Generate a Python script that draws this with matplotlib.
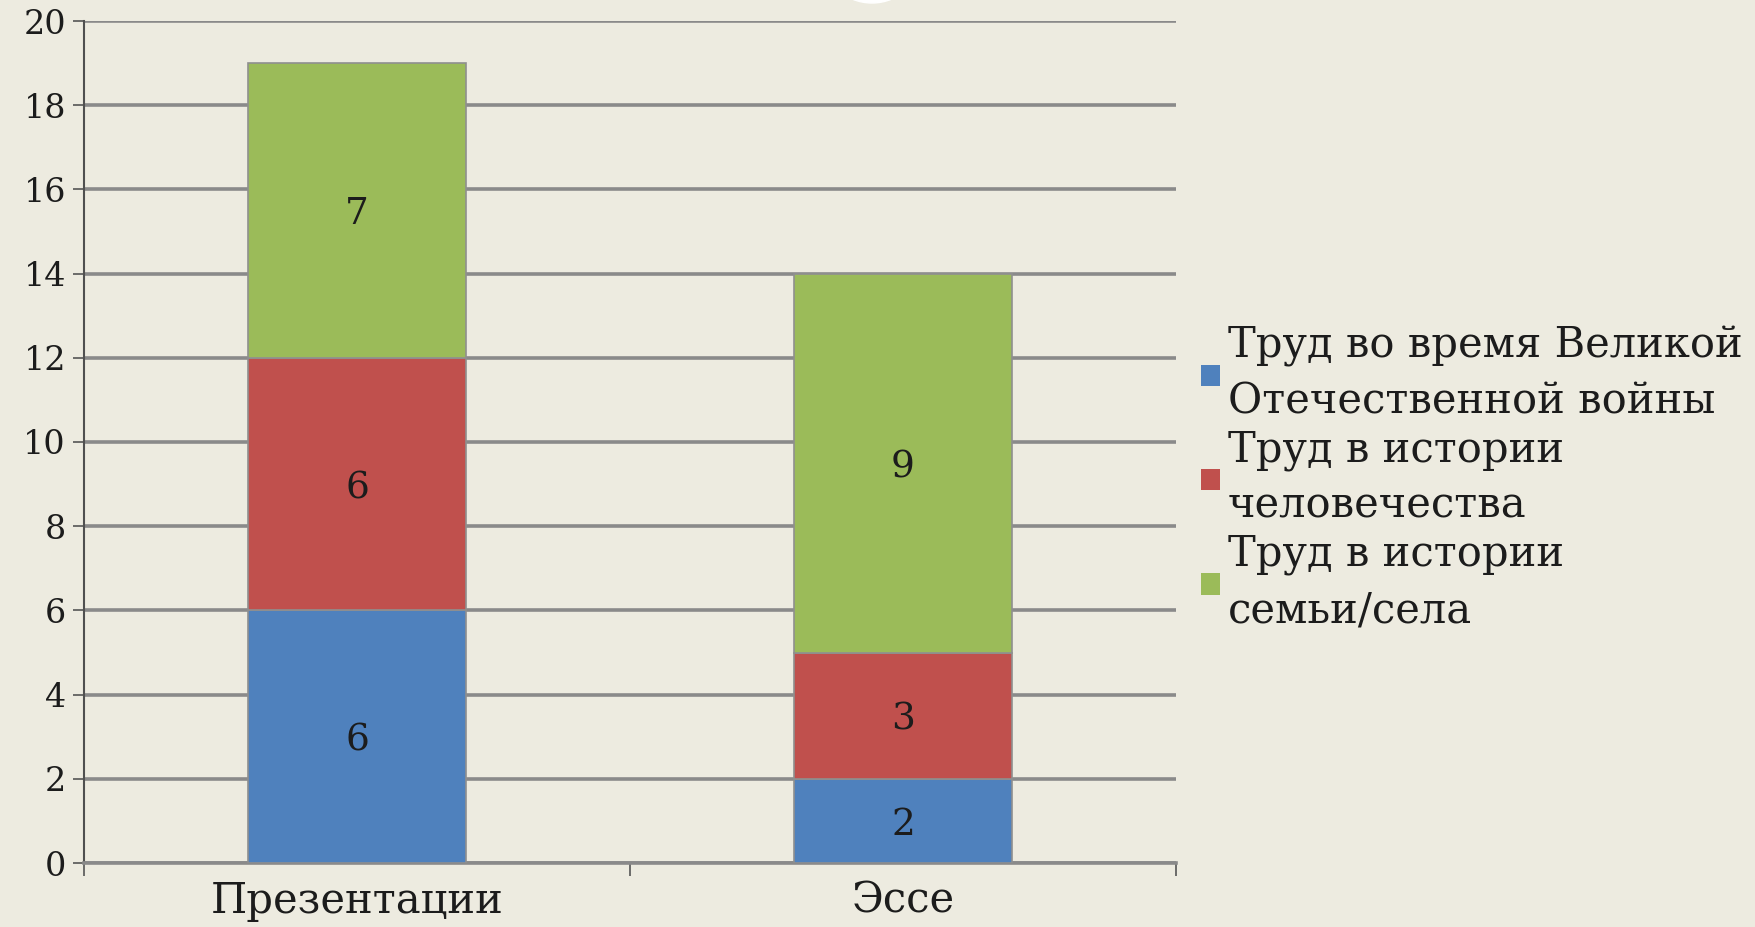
import matplotlib
matplotlib.use('Agg')
import matplotlib.pyplot as plt
from matplotlib.patches import Ellipse
import numpy as np

categories = ['Презентации', 'Эссе']
series_names = ['Труд во время Великой\nОтечественной войны',
                'Труд в истории\nчеловечества',
                'Труд в истории\nсемьи/села']
wartime = [6, 2]
history = [6, 3]
family = [7, 9]
yticks = [0, 2, 4, 6, 8, 10, 12, 14, 16, 18, 20]

colors = ['#4F81BD', '#C0504D', '#9BBB59']
bg = '#EDEBE0'

plt.rcParams['font.family'] = ['DejaVu Serif']

fig = plt.figure(figsize=(17.56, 9.27), dpi=100, facecolor=bg)
ax = fig.add_axes([84 / 1756, 1 - 863 / 927, (1176 - 84) / 1756, (863 - 21) / 927])
ax.set_facecolor(bg)

x = np.arange(len(categories))
bottom = np.zeros(len(categories))
bars = []
for vals, name, c in zip([wartime, history, family], series_names, colors):
    b = ax.bar(x, vals, width=0.4, bottom=bottom, color=c, edgecolor='#8f8f8f',
               linewidth=1.2, label=name, zorder=3)
    for xi, v, b0 in zip(x, vals, bottom):
        ax.text(xi, b0 + v / 2, str(v), ha='center', va='center_baseline',
                fontsize=27, color='#1c1c1c', zorder=4)
    bottom = bottom + np.array(vals)
    bars.append(b)

ax.set_xlim(-0.5, 1.5)
ax.set_ylim(0, 20)
ax.set_yticks(yticks)
ax.set_yticklabels([str(t) for t in yticks], fontsize=24, color='#1c1c1c')
ax.set_xticks(x)
ax.set_xticklabels(categories, fontsize=30, color='#1c1c1c')
ax.set_xticks([-0.5, 0.5, 1.5], minor=True)
ax.tick_params(axis='x', which='major', length=0, pad=12)
ax.tick_params(axis='x', which='minor', length=9, width=1.2, color='#555555')
ax.tick_params(axis='y', length=8, width=1.2, color='#555555', pad=5)

ax.yaxis.grid(True, color='#8a8a8a', linewidth=2.6, zorder=0)
ax.set_axisbelow(True)
for s in ['top', 'right']:
    ax.spines[s].set_visible(False)
ax.spines['left'].set_color('#505050')
ax.spines['left'].set_linewidth(1.5)
ax.spines['bottom'].set_color('#8a8a8a')
ax.spines['bottom'].set_linewidth(2.6)

leg = fig.legend(handles=bars, labels=series_names, loc='center left',
                 bbox_to_anchor=(1201 / 1756, 1 - 478 / 927), frameon=False,
                 fontsize=30, handlelength=0.45, handleheight=0.42,
                 handletextpad=0.2, labelspacing=0.15, borderpad=0,
                 borderaxespad=0)
for t in leg.get_texts():
    t.set_color('#1c1c1c')
    t.set_linespacing(1.42)
for p in leg.get_patches():
    p.set_edgecolor('none')

# white arc peeking in at the top edge
fig.patches.append(Ellipse((872 / 1756, 1 + 49 / 927), 104 / 1756, 104 / 927,
                           transform=fig.transFigure, color='white', zorder=5))

fig.savefig('out.png', dpi=100, facecolor=bg)
